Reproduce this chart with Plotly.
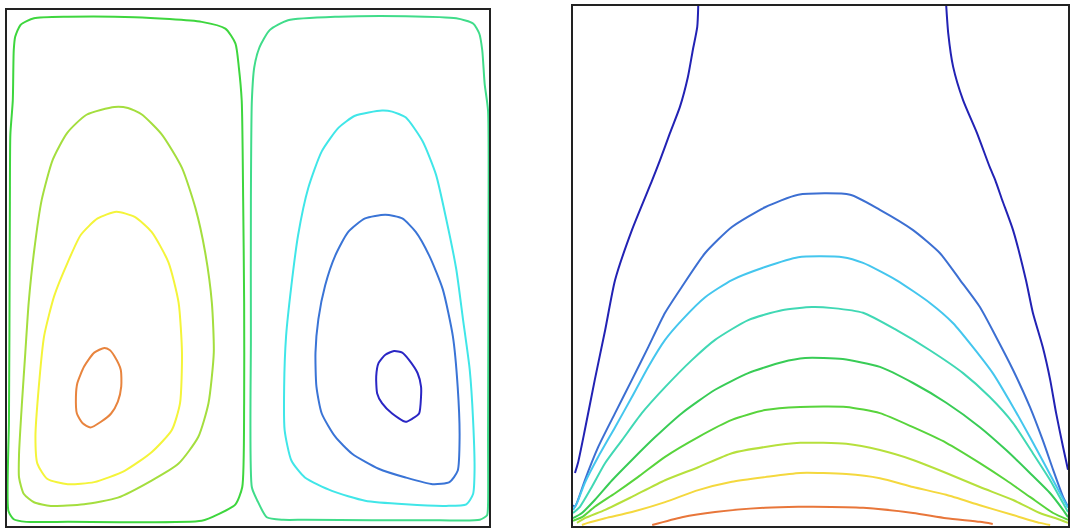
import plotly.graph_objects as go

# ---------------- Left panel: streamlines (two counter-rotating cells) ----------------
psi1_x = [0.003, 0.014, 0.040, 0.126, 0.404, 0.439, 0.474, 0.488, 0.492, 0.492, 0.490, 0.487, 0.481,
          0.474, 0.453, 0.404, 0.265, 0.126, 0.056, 0.028, 0.017, 0.014, 0.012, 0.007, 0.006, 0.005,
          0.004, 0.003]
psi1_y = [0.029, 0.013, 0.008, 0.008, 0.010, 0.023, 0.042, 0.075, 0.238, 0.433, 0.629, 0.824, 0.889,
          0.935, 0.964, 0.977, 0.986, 0.987, 0.984, 0.971, 0.948, 0.922, 0.824, 0.759, 0.629, 0.368,
          0.200, 0.029]

psi2_x = [0.223, 0.165, 0.125, 0.095, 0.072, 0.056, 0.045, 0.038, 0.031, 0.025, 0.025, 0.035, 0.056,
          0.091, 0.160, 0.230, 0.300, 0.356, 0.397, 0.418, 0.429, 0.425, 0.411, 0.391, 0.363, 0.321,
          0.279, 0.251, 0.223]
psi2_y = [0.812, 0.797, 0.762, 0.710, 0.632, 0.531, 0.433, 0.336, 0.238, 0.140, 0.094, 0.062, 0.046,
          0.039, 0.042, 0.055, 0.088, 0.121, 0.173, 0.238, 0.336, 0.433, 0.531, 0.616, 0.694, 0.759,
          0.798, 0.810, 0.812]

psi3_x = [0.227, 0.188, 0.153, 0.126, 0.098, 0.077, 0.066, 0.059, 0.063, 0.084, 0.126, 0.181, 0.244,
          0.300, 0.342, 0.359, 0.363, 0.356, 0.335, 0.300, 0.265, 0.227]
psi3_y = [0.609, 0.596, 0.564, 0.511, 0.446, 0.368, 0.270, 0.173, 0.121, 0.091, 0.081, 0.085, 0.107,
          0.143, 0.186, 0.238, 0.336, 0.433, 0.511, 0.570, 0.599, 0.609]

psi4_x = [0.202, 0.181, 0.160, 0.146, 0.143, 0.145, 0.157, 0.173, 0.195, 0.216, 0.230, 0.237, 0.236,
          0.223, 0.213, 0.202]
psi4_y = [0.345, 0.336, 0.309, 0.277, 0.251, 0.218, 0.199, 0.191, 0.202, 0.218, 0.241, 0.270, 0.303,
          0.329, 0.341, 0.345]

psi5_x = [0.508, 0.506, 0.506, 0.508, 0.513, 0.524, 0.545, 0.583, 0.688, 0.827, 0.932, 0.967, 0.980,
          0.986, 0.991, 0.998, 0.999, 0.998, 0.998, 0.996, 0.981, 0.897, 0.757, 0.618, 0.573, 0.539,
          0.519, 0.508]
psi5_y = [0.075, 0.368, 0.629, 0.824, 0.889, 0.928, 0.961, 0.980, 0.987, 0.988, 0.984, 0.974, 0.954,
          0.922, 0.857, 0.805, 0.564, 0.173, 0.042, 0.021, 0.012, 0.011, 0.011, 0.012, 0.012, 0.017,
          0.050, 0.075]

psi6_x = [0.778, 0.722, 0.688, 0.653, 0.625, 0.604, 0.590, 0.579, 0.575, 0.576, 0.590, 0.618, 0.674,
          0.743, 0.827, 0.911, 0.953, 0.967, 0.970, 0.967, 0.960, 0.946, 0.932, 0.911, 0.890, 0.862,
          0.827, 0.799, 0.778]
psi6_y = [0.805, 0.795, 0.772, 0.726, 0.655, 0.564, 0.466, 0.368, 0.270, 0.186, 0.127, 0.094, 0.068,
          0.049, 0.042, 0.039, 0.042, 0.062, 0.107, 0.205, 0.303, 0.401, 0.498, 0.596, 0.681, 0.746,
          0.792, 0.803, 0.805]

psi7_x = [0.785, 0.743, 0.708, 0.681, 0.660, 0.646, 0.640, 0.642, 0.653, 0.681, 0.716, 0.771, 0.827,
          0.883, 0.918, 0.935, 0.939, 0.935, 0.925, 0.904, 0.876, 0.848, 0.820, 0.785]
psi7_y = [0.603, 0.596, 0.570, 0.524, 0.466, 0.401, 0.336, 0.270, 0.218, 0.173, 0.140, 0.111, 0.094,
          0.081, 0.085, 0.107, 0.173, 0.270, 0.368, 0.459, 0.524, 0.570, 0.596, 0.603]

psi8_x = [0.803, 0.785, 0.771, 0.766, 0.768, 0.778, 0.799, 0.827, 0.841, 0.855, 0.859, 0.859, 0.852,
          0.834, 0.820, 0.803]
psi8_y = [0.339, 0.332, 0.316, 0.290, 0.257, 0.238, 0.218, 0.202, 0.208, 0.218, 0.251, 0.270, 0.296,
          0.322, 0.336, 0.339]

psi_lines = [
    (psi1_x, psi1_y, "#3ed63e"),
    (psi2_x, psi2_y, "#a4de3e"),
    (psi3_x, psi3_y, "#f4f43a"),
    (psi4_x, psi4_y, "#e8843e"),
    (psi5_x, psi5_y, "#40dc8a"),
    (psi6_x, psi6_y, "#40e6e8"),
    (psi7_x, psi7_y, "#3a74d6"),
    (psi8_x, psi8_y, "#2a26c4"),
]

# ---------------- Right panel: isotherms ----------------
t1a_x = [0.253, 0.251, 0.242, 0.232, 0.216, 0.196, 0.176, 0.160, 0.119, 0.085, 0.065, 0.044, 0.024,
         0.010, 0.004]
t1a_y = [1.000, 0.960, 0.915, 0.863, 0.806, 0.756, 0.704, 0.665, 0.569, 0.473, 0.377, 0.281, 0.185,
         0.121, 0.102]
t1b_x = [0.754, 0.758, 0.768, 0.788, 0.816, 0.842, 0.853, 0.867, 0.889, 0.915, 0.929, 0.949, 0.964,
         0.976, 0.990, 1.000]
t1b_y = [1.000, 0.948, 0.883, 0.819, 0.756, 0.690, 0.665, 0.627, 0.569, 0.473, 0.410, 0.344, 0.281,
         0.217, 0.152, 0.108]

t2_x = [0.000, 0.004, 0.010, 0.024, 0.051, 0.085, 0.119, 0.152, 0.186, 0.220, 0.267, 0.321, 0.388,
        0.455, 0.560, 0.620, 0.687, 0.741, 0.782, 0.822, 0.855, 0.889, 0.923, 0.949, 0.970, 0.990, 1.000]
t2_y = [0.040, 0.037, 0.050, 0.088, 0.152, 0.217, 0.281, 0.344, 0.410, 0.460, 0.525, 0.575, 0.613,
        0.637, 0.637, 0.608, 0.569, 0.525, 0.473, 0.421, 0.363, 0.300, 0.229, 0.165, 0.108, 0.056, 0.037]

t3_x = [0.000, 0.008, 0.024, 0.051, 0.085, 0.119, 0.152, 0.186, 0.220, 0.267, 0.321, 0.388, 0.455,
        0.545, 0.586, 0.653, 0.721, 0.768, 0.808, 0.848, 0.889, 0.923, 0.956, 0.984, 1.000]
t3_y = [0.031, 0.044, 0.083, 0.133, 0.190, 0.248, 0.306, 0.358, 0.396, 0.440, 0.473, 0.498, 0.517,
        0.517, 0.506, 0.473, 0.429, 0.390, 0.344, 0.294, 0.229, 0.171, 0.113, 0.063, 0.035]

t4_x = [0.000, 0.014, 0.038, 0.065, 0.099, 0.139, 0.186, 0.240, 0.287, 0.354, 0.422, 0.483, 0.525,
        0.586, 0.653, 0.721, 0.788, 0.842, 0.889, 0.929, 0.964, 0.990, 1.000]
t4_y = [0.025, 0.037, 0.075, 0.121, 0.165, 0.217, 0.267, 0.319, 0.358, 0.396, 0.415, 0.421, 0.419,
        0.410, 0.377, 0.338, 0.294, 0.248, 0.198, 0.140, 0.088, 0.044, 0.027]

t5_x = [0.000, 0.018, 0.044, 0.079, 0.119, 0.166, 0.220, 0.287, 0.354, 0.422, 0.469, 0.545, 0.620,
        0.687, 0.754, 0.822, 0.875, 0.923, 0.964, 0.990, 1.000]
t5_y = [0.015, 0.025, 0.050, 0.088, 0.127, 0.171, 0.217, 0.262, 0.294, 0.315, 0.323, 0.321, 0.306,
        0.275, 0.237, 0.190, 0.146, 0.102, 0.063, 0.031, 0.017]

t6_x = [0.000, 0.018, 0.044, 0.085, 0.131, 0.186, 0.253, 0.321, 0.388, 0.459, 0.552, 0.620, 0.687,
        0.754, 0.822, 0.875, 0.923, 0.970, 1.000]
t6_y = [0.010, 0.017, 0.037, 0.063, 0.094, 0.133, 0.171, 0.204, 0.223, 0.229, 0.229, 0.217, 0.190,
        0.160, 0.121, 0.088, 0.056, 0.025, 0.012]

t7_x = [0.008, 0.024, 0.065, 0.119, 0.186, 0.253, 0.321, 0.388, 0.459, 0.552, 0.620, 0.687, 0.754,
        0.822, 0.889, 0.943, 0.984, 1.000]
t7_y = [0.006, 0.015, 0.031, 0.056, 0.088, 0.113, 0.140, 0.152, 0.160, 0.158, 0.146, 0.127, 0.102,
        0.075, 0.050, 0.025, 0.012, 0.006]

t8_x = [0.018, 0.030, 0.065, 0.119, 0.186, 0.253, 0.321, 0.388, 0.459, 0.552, 0.620, 0.687, 0.754,
        0.822, 0.889, 0.943, 0.964]
t8_y = [0.002, 0.006, 0.015, 0.027, 0.046, 0.069, 0.085, 0.094, 0.102, 0.100, 0.092, 0.075, 0.060,
        0.040, 0.021, 0.006, 0.002]

t9_x = [0.160, 0.220, 0.287, 0.388, 0.455, 0.485, 0.586, 0.687, 0.754, 0.822, 0.848]
t9_y = [0.002, 0.017, 0.027, 0.035, 0.037, 0.037, 0.035, 0.025, 0.015, 0.008, 0.004]

iso_lines = [
    (t1a_x, t1a_y, "#2222b4"),
    (t1b_x, t1b_y, "#2222b4"),
    (t2_x, t2_y, "#3c6fd2"),
    (t3_x, t3_y, "#44c6ee"),
    (t4_x, t4_y, "#40d8b4"),
    (t5_x, t5_y, "#38cc56"),
    (t6_x, t6_y, "#58d43c"),
    (t7_x, t7_y, "#b6e03c"),
    (t8_x, t8_y, "#f4d83e"),
    (t9_x, t9_y, "#e8763a"),
]

fig = go.Figure()
for xs, ys, col in psi_lines:
    fig.add_trace(go.Scatter(x=xs, y=ys, mode="lines", line=dict(color=col, width=2, shape="spline", smoothing=0.6),
                             xaxis="x", yaxis="y", showlegend=False, hoverinfo="skip"))
for xs, ys, col in iso_lines:
    fig.add_trace(go.Scatter(x=xs, y=ys, mode="lines", line=dict(color=col, width=2, shape="spline", smoothing=0.6),
                             xaxis="x2", yaxis="y2", showlegend=False, hoverinfo="skip"))

ax = dict(range=[0, 1], showline=True, mirror=True, linecolor="#222222", linewidth=2,
          showticklabels=False, ticks="", showgrid=False, zeroline=False, fixedrange=True)

fig.update_layout(
    width=1073, height=528,
    margin=dict(l=0, r=0, t=0, b=0),
    paper_bgcolor="white", plot_bgcolor="white",
    xaxis=dict(ax, domain=[7 / 1073, 489 / 1073]),
    yaxis=dict(ax, domain=[2 / 528, 518 / 528]),
    xaxis2=dict(ax, domain=[573 / 1073, 1068 / 1073], anchor="y2"),
    yaxis2=dict(ax, domain=[2 / 528, 522 / 528], anchor="x2"),
)

fig.write_html(
    "out.html",
    config={"displayModeBar": False},
    post_script="document.body.style.margin='0';document.body.style.overflow='hidden';",
)
